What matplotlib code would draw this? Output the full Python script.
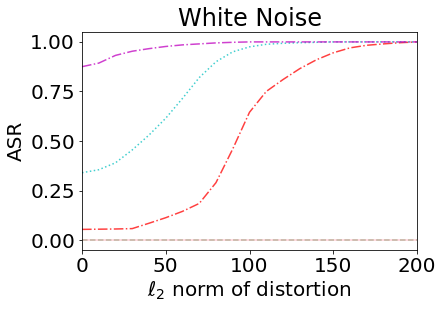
import matplotlib
matplotlib.use("Agg")
import matplotlib.pyplot as plt

x = [0, 10, 20, 30, 40, 50, 60, 70, 80, 90, 100, 110, 120, 130, 140, 150, 160, 170, 180, 190, 200]
asr_magenta = [0.875, 0.893, 0.932, 0.953, 0.966, 0.977, 0.985, 0.990, 0.995, 0.998, 1.0, 1.0, 1.0, 1.0, 1.0, 1.0, 1.0, 1.0, 1.0, 1.0, 1.0]
asr_cyan = [0.34, 0.355, 0.39, 0.455, 0.53, 0.615, 0.715, 0.82, 0.90, 0.95, 0.975, 0.988, 0.993, 0.996, 0.998, 1.0, 1.0, 1.0, 1.0, 1.0, 1.0]
asr_red = [0.054, 0.055, 0.056, 0.058, 0.085, 0.113, 0.145, 0.185, 0.29, 0.46, 0.645, 0.75, 0.81, 0.865, 0.91, 0.945, 0.97, 0.983, 0.99, 0.996, 1.0]
asr_zero = [0.0] * len(x)

fig = plt.figure(figsize=(442/72, 309/72), dpi=72)
ax = fig.add_axes([82/442, (309-250)/309, (417-82)/442, (250-32)/309])

ax.plot(x, asr_zero, color='pink', linestyle='-', alpha=0.75, lw=1.5)
ax.plot(x, asr_zero, color='#b0aa90', linestyle='--', alpha=0.8, lw=1.5)
ax.plot(x, asr_red, color='r', linestyle='-.', alpha=0.75, lw=1.5)
ax.plot(x, asr_cyan, color='c', linestyle=':', alpha=0.75, lw=1.5)
ax.plot(x, asr_magenta, color='m', linestyle='-.', alpha=0.75, lw=1.5)

ax.set_xlim(0, 200)
ax.set_ylim(-0.05, 1.05)
ax.set_yticks([0, 0.25, 0.5, 0.75, 1.0])
ax.set_yticklabels(['0.00', '0.25', '0.50', '0.75', '1.00'])
ax.set_xticks([0, 50, 100, 150, 200])
ax.tick_params(labelsize=20)
ax.set_xlabel(r'$\ell_2$ norm of distortion', fontsize=20)
ax.set_ylabel('ASR', fontsize=20)
ax.set_title('White Noise', fontsize=24)

fig.savefig('out.png', dpi=72)
